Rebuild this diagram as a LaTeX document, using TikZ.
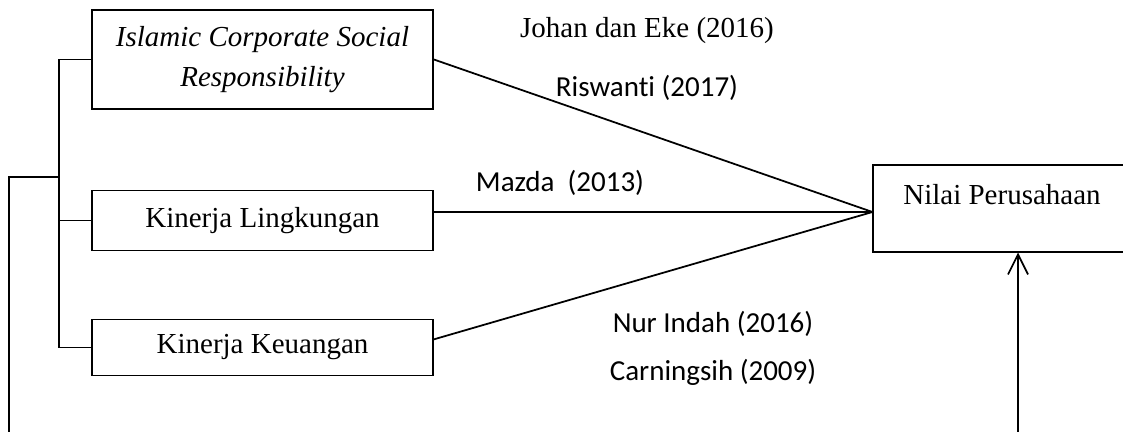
\documentclass[tikz,border=0pt]{standalone}
\usepackage{fontspec}
\setmainfont{Liberation Serif}
\newfontfamily\calib[Ligatures=NoCommon]{Carlito}
\usetikzlibrary{positioning,arrows.meta}

\begin{document}
\begin{tikzpicture}[node distance=1.5cm and 1.5cm,
  box/.style={draw, line width=0.6pt, minimum width=6.82cm, align=center,
    font=\fontsize{16.5}{23}\selectfont},
  ref/.style={inner sep=0pt, font=\fontsize{16.5}{20}\selectfont},
  link/.style={line width=1pt}]
\useasboundingbox (0,0) rectangle (22.46,8.64);
\node[box, line width=1pt, minimum height=1.98cm] (icsr) at (5.25,7.45)
  {\itshape Islamic Corporate Social\\ \itshape Responsibility};
\node[box, minimum height=1.2cm] (lingk) [below=1.6cm of icsr] {Kinerja Lingkungan};
\node[box, minimum height=1.12cm] (keu) [below=1.36cm of lingk] {Kinerja Keuangan};
\node[box, minimum width=5.16cm, minimum height=1.74cm, text depth=0.56cm] (nilai) at (20.04,4.47)
  {Nilai Perusahaan};
\coordinate (hub) at (nilai.west |- 0,4.40);
\coordinate (bus) at (1.18,5.10);
\coordinate (outer) at (0.18,5.10);
\coordinate (foot) at (20.36,0);
% references
\node[ref] (johan) at (12.94,8.02) {Johan dan Eke (2016)};
\node[ref, font=\calib\fontsize{16.5}{20}\selectfont] (risw) at (12.94,6.88) {Riswanti (2017)};
\node[ref, font=\calib\fontsize{16.5}{20}\selectfont] (mazda) at (11.20,4.98) {Mazda\ \ (2013)};
\node[ref, font=\calib\fontsize{16.5}{20}\selectfont] (nur) at (14.26,2.16) {Nur Indah (2016)};
\node[ref, font=\calib\fontsize{16.5}{20}\selectfont] (carn) at (14.26,1.20) {Carningsih (2009)};
% lines
\path[link] (icsr.east) edge (hub);
\path[link] (lingk.east |- hub) edge (hub);
\path[link] ([yshift=0.16cm]keu.east) edge (hub);
\draw[link] (icsr.west) -- (icsr.west -| bus) |- (keu.west);
\draw[link] (lingk.west) -- (lingk.west -| bus);
\draw[link] (bus) -- (outer) -- (outer |- foot);
\draw[link, -{Straight Barb[length=0.4cm, width=0.4cm]}] (foot) -- (foot |- nilai.south);
\end{tikzpicture}
\end{document}
